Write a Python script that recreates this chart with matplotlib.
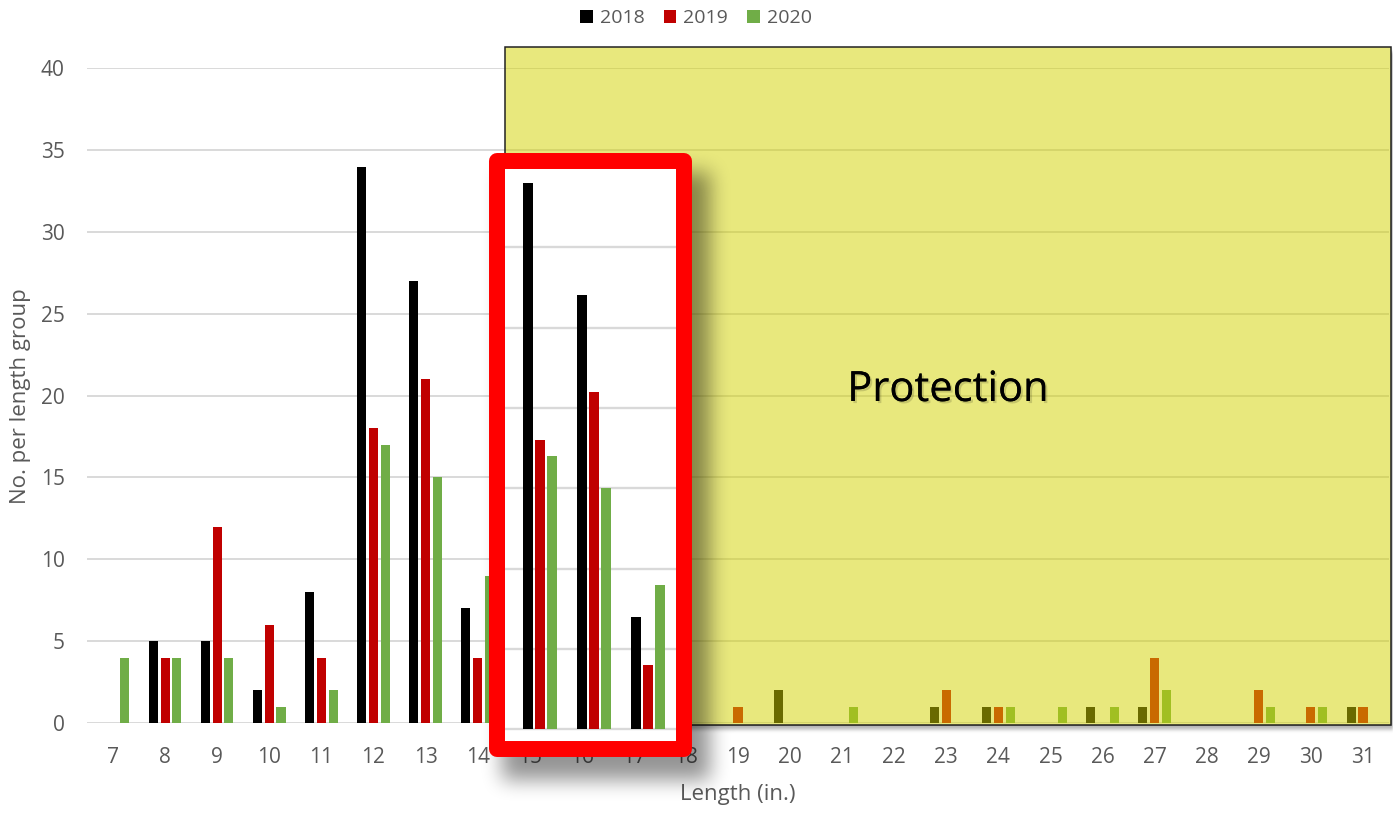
import numpy as np
import matplotlib
matplotlib.use('Agg')
import matplotlib.pyplot as plt
from matplotlib.patches import Rectangle
from matplotlib.transforms import IdentityTransform
import matplotlib.patheffects as pe

# data
lengths = list(range(7, 32))
y2018 = [0, 5, 5, 2, 8, 34, 27, 7, 34, 27, 7, 0, 0, 2, 0, 0, 1, 1, 0, 1, 1, 0, 0, 0, 1]
y2019 = [0, 4, 12, 6, 4, 18, 21, 4, 18, 21, 4, 0, 1, 0, 0, 0, 2, 1, 0, 0, 4, 0, 2, 1, 1]
y2020 = [4, 4, 4, 1, 2, 17, 15, 9, 17, 15, 9, 0, 0, 0, 1, 0, 0, 1, 1, 1, 2, 0, 1, 1, 0]
years = ['2018', '2019', '2020']
colors = ['#000000', '#C00000', '#70AD47']
inset_lengths = [15, 16, 17]

W, H = 1393, 815
plt.rcParams['font.family'] = ['Open Sans', 'DejaVu Sans']
grey = '#595959'
grid_c = '#d9d9d9'

fig = plt.figure(figsize=(W / 100, H / 100), dpi=100)


def frac(x0, y0, x1, y1):
    # pixel box (top-down) -> figure fraction [l, b, w, h]
    return [x0 / W, 1 - y1 / H, (x1 - x0) / W, (y1 - y0) / H]


ax = fig.add_axes(frac(87, 68.3, 1389, 723))
x = np.array(lengths, dtype=float)
off = 0.225
for i, (vals, c) in enumerate(zip([y2018, y2019, y2020], colors)):
    ax.bar(x + (i - 1) * off, vals, width=0.175, color=c, label=years[i], zorder=3)
ax.set_xlim(6.5, 31.5)
ax.set_ylim(0, 40)
ax.set_yticks(range(0, 41, 5))
ax.set_xticks(lengths)
ax.grid(axis='y', color=grid_c, linewidth=1.4, zorder=0)
ax.set_axisbelow(True)
for s in ax.spines.values():
    s.set_visible(False)
ax.tick_params(length=0, labelsize=15, labelcolor=grey)
ax.tick_params(axis='y', pad=16)
ax.tick_params(axis='x', pad=17)
ax.set_xlabel('Length (in.)', fontsize=16, color=grey, labelpad=12)
ax.set_ylabel('No. per length group', fontsize=16, color=grey, labelpad=7)

handles, labels = ax.get_legend_handles_labels()
fig.legend(handles, labels, loc='upper center', bbox_to_anchor=(696 / W, 1.01),
           ncol=3, frameon=False, fontsize=14, handlelength=0.65, handleheight=0.65,
           handletextpad=0.35, columnspacing=1.0, labelcolor=grey)

# translucent yellow "Protection" box
yb = Rectangle((505, H - 725), 886, 678, transform=IdentityTransform(),
               facecolor=(210 / 255, 210 / 255, 0), alpha=0.51, edgecolor='none', zorder=1)
fig.add_artist(yb)
fig.add_artist(Rectangle((505, H - 725), 886, 678, transform=IdentityTransform(),
                         facecolor='none', edgecolor='#222222', linewidth=1.1, zorder=1.1))
fig.text(948 / W, 1 - 390 / H, 'Protection', fontsize=30, ha='center', va='center',
         color='black', zorder=2,
         path_effects=[pe.withSimplePatchShadow(offset=(1.5, -1.5), alpha=0.15), pe.Normal()])


# soft shadows
def blur(a, r, n=3):
    k = np.ones(r) / r
    for _ in range(n):
        a = np.apply_along_axis(lambda v: np.convolve(v, k, mode='same'), 1, a)
        a = np.apply_along_axis(lambda v: np.convolve(v, k, mode='same'), 0, a)
    return a


m1 = np.zeros((H, W))
m1[172:780, 502:710] = 1.0
m1 = blur(m1, 19) * 0.42
m2 = np.zeros((H, W))
m2[50:728, 508:1394] = 1.0
m2 = blur(m2, 4) * 0.3
m2[47:725, 505:1391] = 0
alpha = 1 - (1 - m1) * (1 - m2)
img = np.zeros((H, W, 4))
img[..., 3] = alpha
fig.figimage(img, xo=0, yo=0, origin='upper', zorder=3)

# magnified inset inside the red frame
iax = fig.add_axes(frac(505, 169, 676, 742))
iax.set_zorder(4)
iax.set_facecolor('white')
xi = np.array(inset_lengths, dtype=float)
for i, (vals, c) in enumerate(zip([y2018, y2019, y2020], colors)):
    iv = [vals[lengths.index(L)] for L in inset_lengths]
    iax.bar(xi + (i - 1) * 0.222, iv, width=0.2, color=c, zorder=3)
iax.set_xlim(15 - 35 / 54, 17 + 28 / 54)
iax.set_ylim(-0.79, 34.87)
iax.set_yticks(range(0, 31, 5))
iax.grid(axis='y', color=grid_c, linewidth=1.7, zorder=0)
iax.set_axisbelow(True)
iax.set_xticks([])
iax.tick_params(left=False, labelleft=False)
for s in iax.spines.values():
    s.set_visible(False)

fig.add_artist(Rectangle((497, H - 749), 187, 588, transform=IdentityTransform(),
                         facecolor='none', edgecolor='#ff0000', linewidth=11.5,
                         joinstyle='round', zorder=5))

fig.savefig('out.png', dpi=100)
